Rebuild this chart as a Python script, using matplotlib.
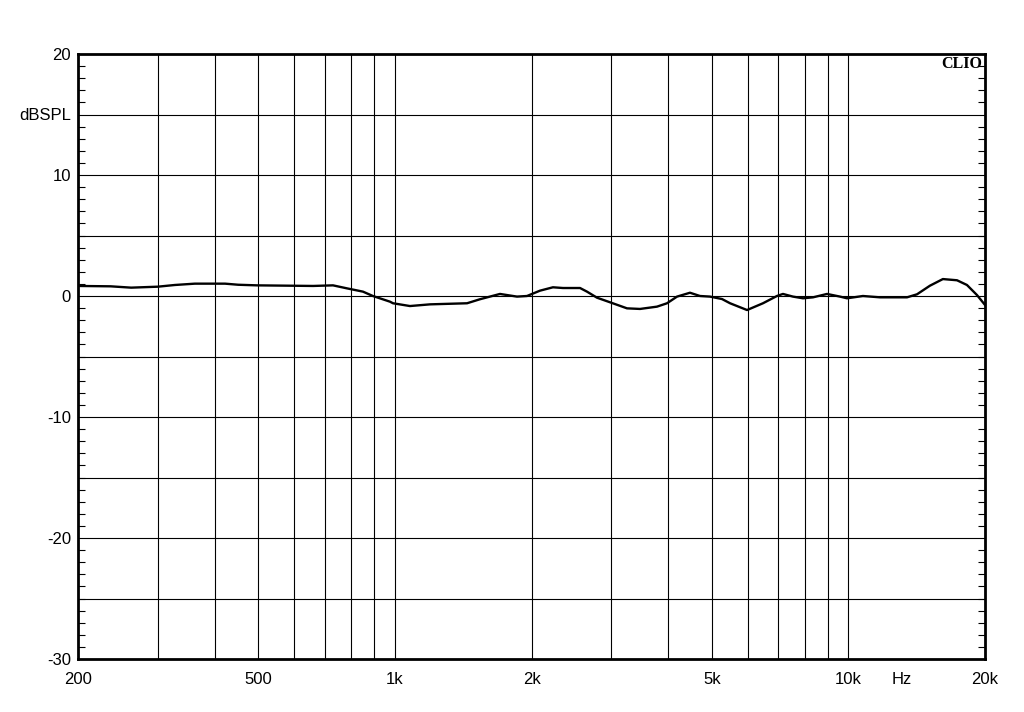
import matplotlib
matplotlib.use("Agg")
import matplotlib.pyplot as plt
from matplotlib.ticker import FixedLocator, NullFormatter, MultipleLocator

freq_hz = [200, 236, 262, 300, 327, 362, 422, 451, 496, 660, 730, 784, 850, 894,
           975, 990, 1079, 1195, 1442, 1539, 1704, 1858, 1955, 2088, 2230, 2347,
           2559, 2651, 2789, 2980, 3248, 3470, 3782, 3980, 4187, 4472, 4705, 4951,
           5261, 5481, 5975, 6478, 6954, 7170, 7543, 7939, 8351, 8968, 9579, 9926,
           10760, 11738, 13460, 14160, 15120, 16150, 17350, 18250, 19200, 20000]
spl_db = [0.83, 0.80, 0.69, 0.77, 0.91, 1.02, 1.02, 0.93, 0.88, 0.83, 0.88, 0.63,
          0.36, 0.0, -0.47, -0.6, -0.83, -0.69, -0.6, -0.27, 0.17, -0.05, 0.0, 0.44,
          0.72, 0.66, 0.66, 0.36, -0.14, -0.52, -1.02, -1.07, -0.88, -0.6, -0.05,
          0.27, 0.0, -0.05, -0.25, -0.6, -1.16, -0.6, 0.0, 0.17, -0.05, -0.19,
          -0.11, 0.17, -0.05, -0.19, 0.0, -0.11, -0.11, 0.14, 0.85, 1.4, 1.3, 0.91,
          0.08, -0.74]

grid_freqs = [300, 400, 500, 600, 700, 800, 900, 1000, 2000, 3000, 4000, 5000,
              6000, 7000, 8000, 9000, 10000]
xtick_pos = [200, 500, 1000, 2000, 5000, 10000, 13100, 20000]
xtick_lbl = ["200", "500", "1k", "2k", "5k", "10k", "Hz", "20k"]
ytick_pos = [20, 15, 10, 0, -10, -20, -30]
ytick_lbl = ["20", "dBSPL", "10", "0", "-10", "-20", "-30"]

font = ["Liberation Sans", "DejaVu Sans"]

fig = plt.figure(figsize=(10.24, 7.12), dpi=100)
ax = fig.add_axes([78/1024, 53/712, 907/1024, 605/712])
ax.set_xscale("log")
ax.set_xlim(200, 20000)
ax.set_ylim(-30, 20)

for f in grid_freqs:
    ax.axvline(f, color="black", lw=0.8, zorder=1)
for y in range(-25, 20, 5):
    ax.axhline(y, color="black", lw=0.8, zorder=1)

ax.plot(freq_hz, spl_db, color="black", lw=1.7, zorder=3,
        solid_joinstyle="round", solid_capstyle="round")

for s in ax.spines.values():
    s.set_linewidth(2.0)
    s.set_color("black")

ax.xaxis.set_major_locator(FixedLocator(xtick_pos))
ax.xaxis.set_minor_locator(FixedLocator([]))
ax.xaxis.set_minor_formatter(NullFormatter())
ax.set_xticklabels(xtick_lbl, fontfamily=font, fontsize=12)
ax.tick_params(axis="x", which="both", length=0, pad=9)

ax.yaxis.set_major_locator(FixedLocator(ytick_pos))
ax.set_yticklabels(ytick_lbl, fontfamily=font, fontsize=12)
ax.yaxis.set_minor_locator(MultipleLocator(1))
ax.tick_params(axis="y", which="major", length=0, pad=5)
ax.tick_params(axis="y", which="minor", direction="in", length=5, width=0.8,
               left=True, right=True)

ax.text(0.997, 0.997, "CLIO", transform=ax.transAxes, ha="right", va="top",
        fontfamily=["Liberation Serif", "DejaVu Serif"], fontweight="bold",
        fontsize=11.5)

fig.savefig("out.png", dpi=100, facecolor="white")
